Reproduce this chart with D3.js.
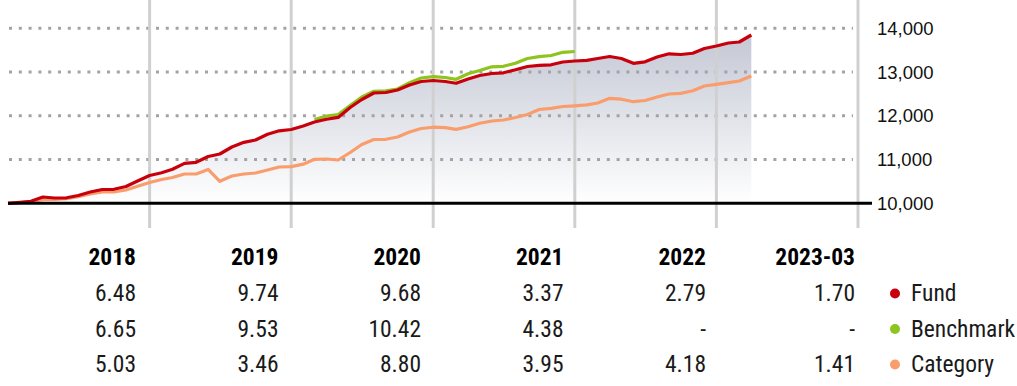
<!DOCTYPE html>
<html>
<head>
<meta charset="utf-8">
<script src="https://cdn.jsdelivr.net/npm/d3@7"></script>
<style>
  html, body { margin: 0; padding: 0; background: #fff; }
  svg { display: block; }
  .cond { font-family: "Liberation Sans Narrow", "Roboto Condensed", "DejaVu Sans Condensed", sans-serif; }
</style>
</head>
<body>
<svg id="chart"></svg>
<script>
var width = 1017;
var height = 386;

// growth of 10,000, month by month from the start of 2018
var fund = [10000, 10023, 10046, 10144, 10121, 10126, 10178, 10258, 10315, 10320, 10384, 10510,
            10635, 10699, 10777, 10914, 10937, 11070, 11127, 11287, 11394, 11447, 11577, 11657,
            11687, 11767, 11858, 11922, 11963, 12190, 12373, 12521, 12533, 12590, 12704, 12784,
            12807, 12784, 12743, 12841, 12921, 12967, 12983, 13051, 13127, 13154, 13166, 13230,
            13253, 13268, 13310, 13355, 13310, 13200, 13234, 13344, 13417, 13401, 13429, 13538,
            13595, 13664, 13687, 13847];

var category = [10000, 10014, 10030, 10087, 10091, 10105, 10151, 10213, 10258, 10258, 10304, 10389,
                10475, 10544, 10590, 10670, 10670, 10773, 10503, 10624, 10670, 10693, 10761, 10830,
                10837, 10894, 11006, 11013, 10990, 11161, 11344, 11458, 11463, 11515, 11630, 11710,
                11739, 11728, 11691, 11751, 11829, 11881, 11904, 11961, 12030, 12144, 12171, 12213,
                12229, 12251, 12293, 12400, 12379, 12322, 12349, 12429, 12498, 12514, 12573, 12681,
                12720, 12757, 12795, 12910];

// benchmark line only begins in March 2020
var benchStart = 26;
var benchmark = [11915, 11995, 12030, 12235, 12430, 12560, 12571, 12613, 12757, 12864,
                 12894, 12875, 12834, 12960, 13035, 13120, 13131, 13202, 13310, 13351,
                 13378, 13451, 13470];

var yTicks = [10000, 11000, 12000, 13000, 14000];

var years = ["2018", "2019", "2020", "2021", "2022", "2023-03"];
var fundRet = ["6.48", "9.74", "9.68", "3.37", "2.79", "1.70"];
var benchRet = ["6.65", "9.53", "10.42", "4.38", "-", "-"];
var catRet = ["5.03", "3.46", "8.80", "3.95", "4.18", "1.41"];

var seriesNames = ["Fund", "Benchmark", "Category"];
var seriesColors = ["#c8000c", "#8dc41d", "#f99d6c"];

function monthDate(i) { return new Date(2018, i, 1); }

var x = d3.scaleTime()
    .domain([new Date(2018, 0, 1), new Date(2024, 0, 1)])
    .range([8, 858]);
var y = d3.scaleLinear()
    .domain([10000, 14000])
    .range([203.3, 28.3]);

var svg = d3.select('#chart')
    .attr('width', width)
    .attr('height', height);

var defs = svg.append('defs');
var grad = defs.append('linearGradient')
    .attr('id', 'areaGrad')
    .attr('gradientUnits', 'userSpaceOnUse')
    .attr('x1', 0).attr('x2', 0)
    .attr('y1', y(14000)).attr('y2', y(10000));
grad.append('stop').attr('offset', '0%').attr('stop-color', '#c2c6d3');
grad.append('stop').attr('offset', '100%').attr('stop-color', '#ffffff');

var fundPts = fund.map(function(v, i) { return [monthDate(i), v]; });
var catPts = category.map(function(v, i) { return [monthDate(i), v]; });
var benchPts = benchmark.map(function(v, i) { return [monthDate(i + benchStart), v]; });

// shaded area under the fund
svg.append('path')
    .datum(fundPts)
    .attr('fill', 'url(#areaGrad)')
    .attr('d', d3.area()
        .x(function(d) { return x(d[0]); })
        .y0(y(10000))
        .y1(function(d) { return y(d[1]); }));

// dotted horizontal grid
svg.append('g').selectAll('line')
    .data(yTicks.filter(function(t) { return t > 10000; }))
  .enter().append('line')
    .attr('x1', 9)
    .attr('x2', 853)
    .attr('y1', function(d) { return y(d); })
    .attr('y2', function(d) { return y(d); })
    .attr('stroke', '#a3a3a3')
    .attr('stroke-width', 3)
    .attr('stroke-dasharray', '3,6.8');

// year separators
var yearLines = d3.range(2019, 2025).map(function(yr) { return new Date(yr, 0, 1); });
svg.append('g').selectAll('line')
    .data(yearLines)
  .enter().append('line')
    .attr('x1', function(d) { return x(d); })
    .attr('x2', function(d) { return x(d); })
    .attr('y1', 0)
    .attr('y2', 228)
    .attr('stroke', '#d0d0d0')
    .attr('stroke-width', 3);

var line = d3.line()
    .x(function(d) { return x(d[0]); })
    .y(function(d) { return y(d[1]); });

[[catPts, seriesColors[2]], [benchPts, seriesColors[1]], [fundPts, seriesColors[0]]].forEach(function(s) {
    svg.append('path')
        .datum(s[0])
        .attr('fill', 'none')
        .attr('stroke', s[1])
        .attr('stroke-width', 3.2)
        .attr('stroke-linejoin', 'round')
        .attr('d', line);
});

// baseline at 10,000
svg.append('line')
    .attr('x1', 8)
    .attr('x2', 872)
    .attr('y1', y(10000))
    .attr('y2', y(10000))
    .attr('stroke', '#000')
    .attr('stroke-width', 3);

// right axis labels
svg.append('g').selectAll('text')
    .data(yTicks)
  .enter().append('text')
    .attr('x', 877)
    .attr('y', function(d) { return y(d) + 6.5; })
    .attr('font-family', '"Liberation Sans", Arial, sans-serif')
    .attr('font-size', 18.5)
    .attr('fill', '#111')
    .text(function(d) { return d3.format(',')(d); });

// returns table
function colX(i) { return i < 5 ? 136 + i * 142.5 : 855; }

var table = svg.append('g').attr('class', 'cond');
table.selectAll('.hdr')
    .data(years)
  .enter().append('text')
    .attr('class', 'hdr')
    .attr('x', function(d, i) { return colX(i); })
    .attr('y', 265)
    .attr('text-anchor', 'end')
    .attr('font-size', 23.5)
    .attr('font-weight', 'bold')
    .attr('fill', '#000')
    .text(function(d) { return d; });

var rows = [fundRet, benchRet, catRet];
var rowY = [301, 336.5, 372];
rows.forEach(function(r, ri) {
    table.append('g').selectAll('text')
        .data(r)
      .enter().append('text')
        .attr('x', function(d, i) { return colX(i); })
        .attr('y', rowY[ri])
        .attr('text-anchor', 'end')
        .attr('font-size', 23.5)
        .attr('fill', '#1a1a1a')
        .text(function(d) { return d; });
});

// legend
var legend = svg.append('g').attr('class', 'cond');
legend.selectAll('circle')
    .data(seriesNames)
  .enter().append('circle')
    .attr('cx', 895)
    .attr('cy', function(d, i) { return rowY[i] - 7.5; })
    .attr('r', 5)
    .attr('fill', function(d, i) { return seriesColors[i]; });
legend.selectAll('text')
    .data(seriesNames)
  .enter().append('text')
    .attr('x', 911)
    .attr('y', function(d, i) { return rowY[i]; })
    .attr('font-size', 23.5)
    .attr('fill', '#1a1a1a')
    .text(function(d) { return d; });
</script>
</body>
</html>
